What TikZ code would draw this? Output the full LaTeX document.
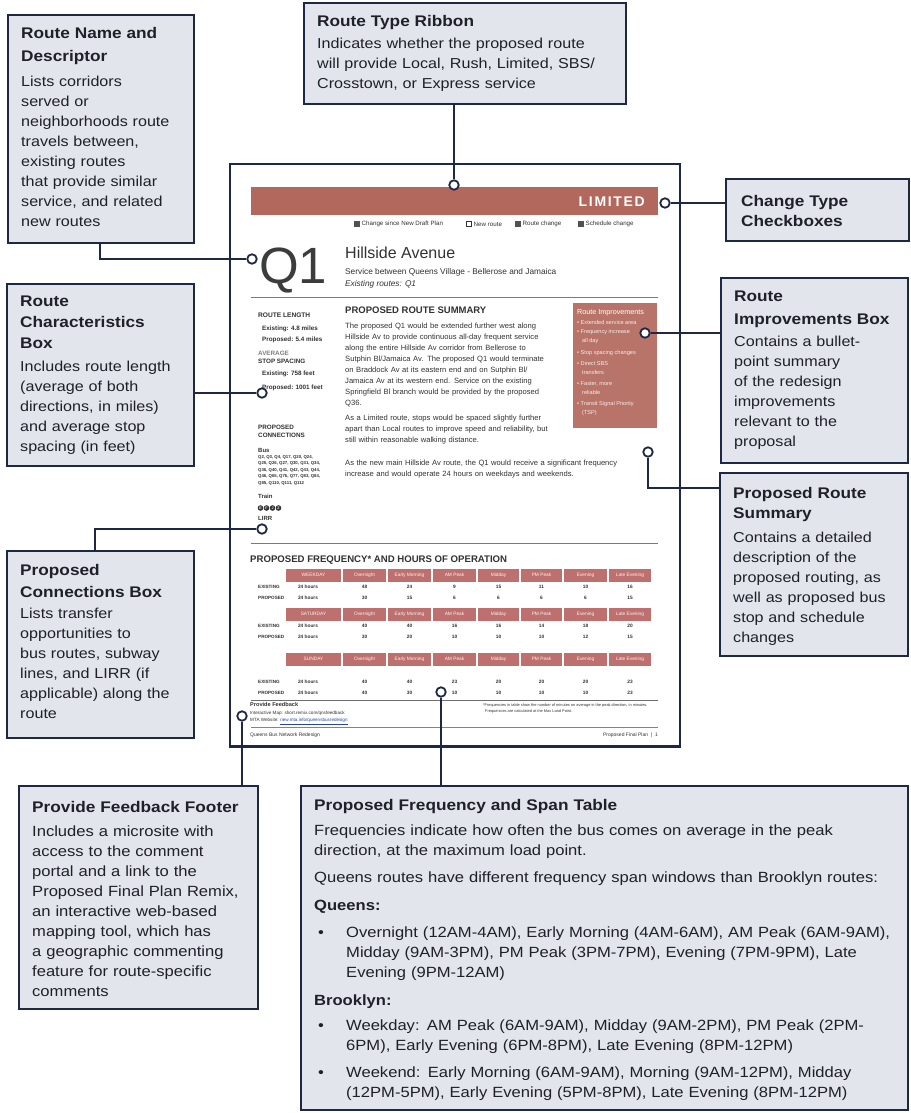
\documentclass[tikz,border=0pt]{standalone}
\usepackage{fontspec}
\setmainfont{Liberation Sans}[FakeStretch=1.12]
\newfontfamily\pagefont{Liberation Sans}
\usetikzlibrary{calc}
\definecolor{navy}{RGB}{30,40,68}
\definecolor{boxfill}{RGB}{226,229,235}
\definecolor{ribbon}{RGB}{178,104,92}
\definecolor{hdr}{RGB}{190,112,110}
\definecolor{redline}{RGB}{206,84,96}
\definecolor{pgtext}{RGB}{50,50,50}
\definecolor{callt}{RGB}{32,32,42}
\definecolor{linkblue}{RGB}{40,70,160}
\newcommand\ttlfont{\bfseries\fontsize{15.4}{20}\selectfont}
\newcommand\pgfs[1]{\pagefont\fontsize{#1}{#1}\selectfont}
\newcommand\pgfl[2]{\pagefont\fontsize{#1}{#2}\selectfont}
\newcommand\pgbf[1]{\pagefont\bfseries\fontsize{#1}{#1}\selectfont}
\newcommand\pgbl[2]{\pagefont\bfseries\fontsize{#1}{#2}\selectfont}
\def\colxs{{308,364.5,409.5,454.5,498.5,541.5,585.5,630}}
\newcommand\datarow[4]{%
  \node[rowlab] (#1l) at (258,#2) {#3};
  \foreach \vv [count=\ci] in {#4} {%
    \pgfmathsetmacro\colx{\colxs[\ci-1]}%
    \node[dcell] (#1\ci) at (\colx,#2) {\vv};
  }}
\newcommand\hdrrow[3]{%
  \foreach \lx/\rx/\tx [count=\ci] in {285/342/#3,342/387/Overnight,387/432/Early Morning,432/477/AM Peak,477/520/Midday,520/563/PM Peak,563/608/Evening,608/652/Late Evening} {%
    \pgfmathsetmacro\cellw{\rx-\lx-1.2}%
    \pgfmathsetmacro\cellm{(\lx+\rx)/2}%
    \node[hcell, minimum width=\cellw pt] (#1\ci) at (\cellm,#2) {\tx};
  }}
\newcommand\blt{\makebox[32pt][l]{\hspace{4pt}\textbullet}}
\begin{document}
\begin{tikzpicture}[x=1pt,y=-1pt,
  callbox/.style={draw=navy, line width=2.2pt, fill=boxfill, inner sep=0pt, anchor=north west},
  ctxt/.style={anchor=north west, inner sep=0pt, align=left, text=callt, text width=#1, font=\fontsize{14.4}{20}\selectfont},
  ctxt/.default=180pt,
  conn/.style={draw=navy, line width=1.8pt},
  pin/.style={circle, draw=navy, line width=1.8pt, fill=white, minimum size=9.5pt, inner sep=0pt},
  ptxt/.style={inner sep=0pt, text=pgtext},
  rowlab/.style={ptxt, anchor=west, font=\pgbf{4.6}},
  dcell/.style={ptxt, font=\pgbf{4.8}},
  hcell/.style={fill=hdr, text=white!92!hdr, minimum height=13pt, inner sep=0pt, font=\pgfs{4.8}},
  sq/.style={minimum size=5.5pt, inner sep=0pt, fill=pgtext!85},
  tsub/.style={circle, fill=pgtext, minimum size=5.6pt, inner sep=0pt, text=white, font=\pgbf{3.6}},
]
\useasboundingbox (0,0) rectangle (910,1113);
\fill[white] (0,0) rectangle (910,1113);

% ---------- the sample page ----------
\node[draw=navy, line width=1.6pt, fill=white, minimum width=450pt, minimum height=582pt, anchor=north west, inner sep=0pt] (page) at (229,163) {};
\draw[navy, line width=2.8pt] (page.south west) -- (page.south east);

\node[fill=ribbon, minimum width=407pt, minimum height=28pt, anchor=north west, inner sep=0pt] (ribbon) at (251,187) {};
\node[anchor=east, inner sep=0pt, text=white, font=\pgbf{14}\addfontfeatures{LetterSpace=12}] (ribtxt) at (645,202) {LIMITED};

\node[sq] (lg1) at (357,224) {};
\node[ptxt, anchor=west, font=\pgfs{6.2}] (lg1t) at (361.5,224) {Change since New Draft Plan};
\node[sq, fill=white, draw=pgtext, line width=0.6pt] (lg2) at (469,224) {};
\node[ptxt, anchor=west, font=\pgfs{6.2}] (lg2t) at (473.5,224) {New route};
\node[sq] (lg3) at (518,224) {};
\node[ptxt, anchor=west, font=\pgfs{6.2}] (lg3t) at (522.5,224) {Route change};
\node[sq] (lg4) at (581,224) {};
\node[ptxt, anchor=west, font=\pgfs{6.2}] (lg4t) at (585.5,224) {Schedule change};

\node[ptxt, anchor=base west, text=pgtext!95, font=\pgfs{51}] (q1) at (259,283) {Q1};
\node[ptxt, anchor=base west, font=\pgfs{16}] (rname) at (345,258) {Hillside Avenue};
\node[ptxt, anchor=base west, font=\pgfs{8.3}] (rserv) at (345,274) {Service between Queens Village - Bellerose and Jamaica};
\node[ptxt, anchor=base west, font=\pgfs{8.3}\itshape] (rexist) at (345,286) {Existing routes: Q1};

\draw[redline, line width=0.9pt] (251,297) -- (658,297);

\node[ptxt, anchor=base west, font=\pgbf{9.5}] (prshead) at (345,313.5) {PROPOSED ROUTE SUMMARY};
\node[ptxt, anchor=north west, align=left, text width=320pt, font=\pgfl{7.6}{11}] (prsbody) at (345,322.5) {The proposed Q1 would be extended further west along\\
Hillside Av to provide continuous all-day frequent service\\
along the entire Hillside Av corridor from Bellerose to\\
Sutphin Bl/Jamaica Av. The proposed Q1 would terminate\\
on Braddock Av at its eastern end and on Sutphin Bl/\\
Jamaica Av at its western end. Service on the existing\\
Springfield Bl branch would be provided by the proposed\\
Q36.\\[4pt]
As a Limited route, stops would be spaced slightly further\\
apart than Local routes to improve speed and reliability, but\\
still within reasonable walking distance.\\[12pt]
As the new main Hillside Av route, the Q1 would receive a significant frequency\\
increase and would operate 24 hours on weekdays and weekends.};

% route characteristics column
\node[ptxt, anchor=base west, font=\pgbf{6.6}] (rlen) at (258,317.5) {ROUTE LENGTH};
\node[ptxt, anchor=base west, font=\pgbf{6.3}] (rlen1) at (262,330.5) {Existing: 4.8 miles};
\node[ptxt, anchor=base west, font=\pgbf{6.3}] (rlen2) at (262,341.5) {Proposed: 5.4 miles};
\node[ptxt, anchor=base west, text=gray, font=\pgbf{6.3}] (avg) at (258,355.5) {AVERAGE};
\node[ptxt, anchor=base west, font=\pgbf{6.3}] (sspc) at (258,363.5) {STOP SPACING};
\node[ptxt, anchor=base west, font=\pgbf{6.3}] (sspc1) at (262,375.5) {Existing: 758 feet};
\node[ptxt, anchor=base west, font=\pgbf{6.3}] (sspc2) at (262,389.5) {Proposed: 1001 feet};

% proposed connections column
\node[ptxt, anchor=base west, font=\pgbf{6.3}] (pcon1) at (258,429.5) {PROPOSED};
\node[ptxt, anchor=base west, font=\pgbf{6.3}] (pcon2) at (258,437.5) {CONNECTIONS};
\node[ptxt, anchor=base west, font=\pgbf{6}] (pbus) at (258,452.5) {Bus};
\node[ptxt, anchor=north west, align=left, font=\pgbl{4.3}{6.5}] (pbusl) at (258,455) {Q2, Q3, Q4, Q17, Q20, Q24,\\Q25, Q26, Q27, Q30, Q31, Q34,\\Q36, Q40, Q41, Q42, Q43, Q44,\\Q46, Q65, Q76, Q77, Q83, Q84,\\Q85, Q110, Q111, Q112};
\node[ptxt, anchor=base west, font=\pgbf{6}] (ptrain) at (258,498.5) {Train};
\node[tsub] (tr1) at (260.5,508) {E};
\node[tsub] (tr2) at (266.5,508) {F};
\node[tsub] (tr3) at (272.5,508) {J};
\node[tsub] (tr4) at (278.5,508) {Z};
\node[ptxt, anchor=base west, font=\pgbf{6}] (plirr) at (258,520.5) {LIRR};

% route improvements box
\node[fill=ribbon!92!white, minimum width=84pt, minimum height=125pt, anchor=north west, inner sep=0pt] (rimp) at (573,303) {};
\node[ptxt, anchor=north west, align=left, text=white, font=\pgfs{7.2}] (rimpt) at (577,309) {Route Improvements};
\node[ptxt, anchor=north west, align=left, text=white!88!ribbon, font=\pgfl{5.6}{9}] (rimpb) at (577,320) {\textbullet\ Extended service area\\
\textbullet\ Frequency increase\\\hspace*{5pt}all day\\[3pt]
\textbullet\ Stop spacing changes\\[2pt]
\textbullet\ Direct SBS\\\hspace*{5pt}transfers\\[2pt]
\textbullet\ Faster, more\\\hspace*{5pt}reliable\\[2pt]
\textbullet\ Transit Signal Priority\\\hspace*{5pt}(TSP)};

\draw[redline, line width=0.9pt] (251,543) -- (658,543);
\node[ptxt, anchor=base west, font=\pgbf{9.6}] (fhead) at (250,562.5) {PROPOSED FREQUENCY* AND HOURS OF OPERATION};

% frequency table
\hdrrow{ha}{575}{WEEKDAY}
\datarow{ea}{587}{EXISTING}{24 hours,48,24,9,15,11,10,16}
\datarow{pa}{598}{PROPOSED}{24 hours,30,15,6,6,6,6,15}
\hdrrow{hb}{614}{SATURDAY}
\datarow{eb}{625.5}{EXISTING}{24 hours,40,40,16,16,14,18,20}
\datarow{pb}{637}{PROPOSED}{24 hours,30,20,10,10,10,12,15}
\hdrrow{hc}{659}{SUNDAY}
\datarow{ec}{681.5}{EXISTING}{24 hours,40,40,23,20,20,20,23}
\datarow{pc}{693}{PROPOSED}{24 hours,40,30,10,10,10,10,23}

\draw[pgtext!70, line width=0.6pt] (251,700) -- (658,700);
\node[ptxt, anchor=north west, align=left, font=\pgfl{3.9}{6}] (fnote) at (483,703) {*Frequencies in table show the number of minutes on average in the peak direction, in minutes.\\\hspace*{2pt}Frequencies are calculated at the Max Load Point.};

\node[ptxt, anchor=base west, font=\pgbf{5.6}] (fbh) at (250,706.5) {Provide Feedback};
\node[ptxt, anchor=base west, font=\pgfs{4.6}] (fbm) at (250,714) {Interactive Map: short.remix.com/qnsfeedback};
\node[ptxt, anchor=base west, font=\pgfs{4.6}] (fbw) at (250,721.5) {MTA Website: \textcolor{linkblue}{\underline{new.mta.info/queensbusredesign}}};
\draw[pgtext!60, line width=0.5pt] (251,727) -- (658,727);
\node[ptxt, anchor=base west, font=\pgfs{5}] (foot1) at (250,736) {Queens Bus Network Redesign};
\node[ptxt, anchor=base east, font=\pgfs{5}] (foot2) at (658,736) {Proposed Final Plan \ \textbar\ \ 1};

% ---------- callout boxes ----------
\node[callbox, minimum width=186pt, minimum height=228pt] (rnd) at (7,14) {};
\node[ctxt=176pt] (rndt) at (21,27) {{\ttlfont Route Name and\\[3pt]Descriptor}\\[5pt]Lists corridors\\served or\\neighborhoods route\\travels between,\\existing routes\\that provide similar\\service, and related\\new routes};

\node[callbox, minimum width=322pt, minimum height=101pt] (rtr) at (303,2) {};
\node[ctxt=310pt] (rtrt) at (317,15) {{\ttlfont Route Type Ribbon}\\[2pt]Indicates whether the proposed route\\will provide Local, Rush, Limited, SBS/\\Crosstown, or Express service};

\node[callbox, minimum width=183pt, minimum height=62pt] (cht) at (725,178) {};
\node[ctxt=170pt] (chtt) at (741,195) {{\ttlfont Change Type\\Checkboxes}};

\node[callbox, minimum width=187pt, minimum height=182pt] (rcb) at (6,283) {};
\node[ctxt=176pt] (rcbt) at (20,296) {{\ttlfont Route\\[1pt]Characteristics\\[1pt]Box}\\[3pt]Includes route length\\(average of both\\directions, in miles)\\and average stop\\spacing (in feet)};

\node[callbox, minimum width=187pt, minimum height=185pt] (rib) at (720,277) {};
\node[ctxt=176pt] (ribt) at (734,291) {{\ttlfont Route\\[3pt]Improvements Box}\\[2pt]Contains a bullet-\\point summary\\of the redesign\\improvements\\relevant to the\\proposal};

\node[callbox, minimum width=188pt, minimum height=183pt] (prs) at (719,472) {};
\node[ctxt=176pt] (prst) at (733,487) {{\ttlfont Proposed Route\\Summary}\\[4pt]Contains a detailed\\description of the\\proposed routing, as\\well as proposed bus\\stop and schedule\\changes};

\node[callbox, minimum width=187pt, minimum height=187pt] (pcb) at (6,550) {};
\node[ctxt=176pt] (pcbt) at (20,564) {{\ttlfont Proposed\\[2pt]Connections Box}\\[1pt]Lists transfer\\opportunities to\\bus routes, subway\\lines, and LIRR (if\\applicable) along the\\route};

\node[callbox, minimum width=239pt, minimum height=223pt] (pff) at (18,785) {};
\node[ctxt=224pt, font=\fontsize{14.8}{20}\selectfont] (pfft) at (32,801) {{\ttlfont Provide Feedback Footer}\\[4pt]Includes a microsite with\\access to the comment\\portal and a link to the\\Proposed Final Plan Remix,\\an interactive web-based\\mapping tool, which has\\a geographic commenting\\feature for route-specific\\comments};

\node[callbox, minimum width=607pt, minimum height=324pt] (pft) at (300,785) {};
\node[ctxt=595pt, font=\fontsize{14.8}{20}\selectfont] (pftt) at (314,799) {{\ttlfont Proposed Frequency and Span Table}\\[5pt]Frequencies indicate how often the bus comes on average in the peak\\direction, at the maximum load point.\\[7pt]Queens routes have different frequency span windows than Brooklyn routes:\\[8pt]{\bfseries Queens:}\\[7pt]\blt Overnight (12AM-4AM), Early Morning (4AM-6AM), AM Peak (6AM-9AM),\\\hspace*{32pt}Midday (9AM-3PM), PM Peak (3PM-7PM), Evening (7PM-9PM), Late\\\hspace*{32pt}Evening (9PM-12AM)\\[8pt]{\bfseries Brooklyn:}\\[5pt]\blt Weekday: AM Peak (6AM-9AM), Midday (9AM-2PM), PM Peak (2PM-\\\hspace*{32pt}6PM), Early Evening (6PM-8PM), Late Evening (8PM-12PM)\\[7pt]\blt Weekend: Early Morning (6AM-9AM), Morning (9AM-12PM), Midday\\\hspace*{32pt}(12PM-5PM), Early Evening (5PM-8PM), Late Evening (8PM-12PM)};

% ---------- pins ----------
\node[pin] (cRib) at (454,185) {};
\node[pin] (cChk) at (665,203) {};
\node[pin] (cQ1) at (252,259) {};
\node[pin] (cRC) at (262,393) {};
\node[pin] (cRI) at (645,333) {};
\node[pin] (cPRS) at (648,452) {};
\node[pin] (cPC) at (262,529) {};
\node[pin] (cFT) at (441,692) {};
\node[pin] (cFB) at (242,716) {};

% ---------- connectors ----------
\coordinate (k1) at (100,0);
\coordinate (k6) at (0,488);
\coordinate (k7) at (95,0);
\draw[conn] (cQ1.west) -| (k1 |- rnd.south);
\draw[conn] (rtr.south -| cRib) -- (cRib.north);
\draw[conn] (cChk.east) -- (cChk -| cht.west);
\draw[conn] (cRC.west) -- (cRC -| rcb.east);
\draw[conn] (cRI.east) -- (cRI -| rib.west);
\draw[conn] (cPRS.south) |- (prs.west |- k6);
\draw[conn] (cPC.west) -| (k7 |- pcb.north);
\draw[conn] (cFT.south) -- (cFT |- pft.north);
\draw[conn] (cFB.south) -- (cFB |- pff.north);
\end{tikzpicture}
\end{document}
